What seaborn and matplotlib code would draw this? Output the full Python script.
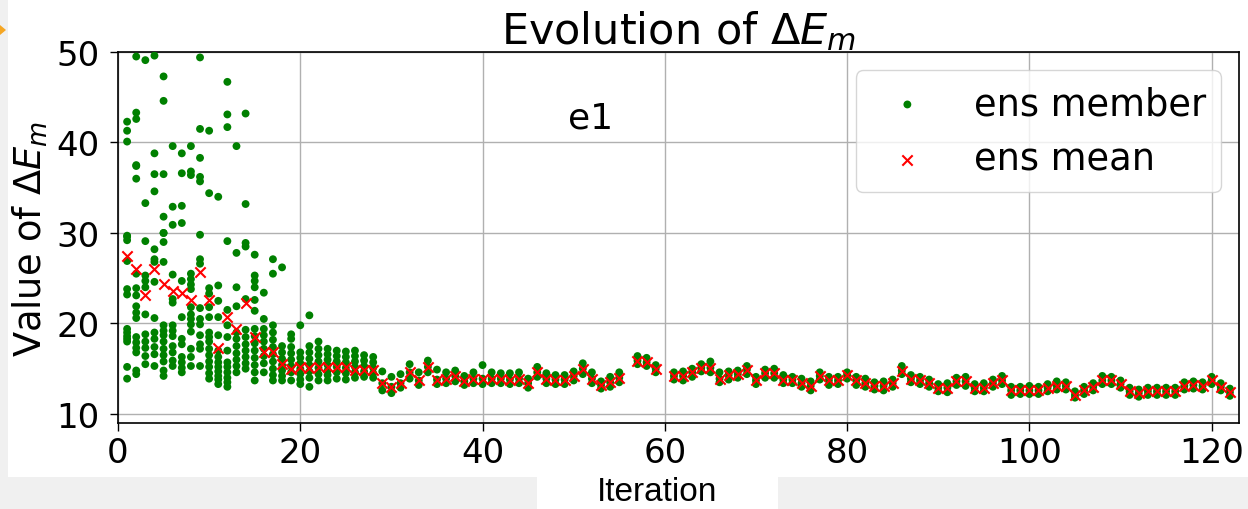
import pandas as pd
import matplotlib
matplotlib.use("Agg")
import matplotlib.pyplot as plt
from matplotlib.patches import Rectangle, Polygon
import seaborn as sns

# iterations 56 and 60 are missing in the run
iterations = [i for i in range(1, 123) if i not in (56, 60)]

ens_mean = [
    27.5, 26.0, 23.2, 26.0, 24.4, 23.6, 23.4, 22.6, 25.7, 22.6,
    17.3, 20.7, 19.4, 22.3, 18.5, 16.8, 16.8, 15.5, 15.0, 15.2,
    15.1, 15.2, 15.2, 15.2, 15.2, 14.9, 14.9, 14.9, 13.4, 13.0,
    13.4, 14.6, 13.7, 15.2, 13.8, 13.9, 14.2, 13.6, 13.9, 13.9,
    13.9, 13.9, 13.8, 13.9, 13.4, 14.6, 13.9, 13.8, 13.8, 14.2,
    15.0, 13.9, 13.2, 13.5, 14.0,
    15.9, 15.7, 15.0,
    14.2, 14.2, 14.6, 15.1, 15.1, 13.9, 14.3, 14.4, 14.9, 13.7,
    14.5, 14.5, 13.8, 13.8, 13.4, 13.1, 14.2, 13.7, 13.7, 14.3,
    13.7, 13.4, 13.1, 13.1, 13.4, 14.8, 13.9, 13.7, 13.4, 12.9,
    12.9, 13.6, 13.6, 12.9, 12.9, 13.4, 13.7, 12.6, 12.6, 12.6,
    12.6, 12.9, 13.1, 13.1, 12.1, 12.6, 13.0, 13.7, 13.7, 13.3,
    12.5, 12.3, 12.5, 12.5, 12.5, 12.5, 13.1, 13.2, 13.1, 13.7,
    13.0, 12.4,
]

# ensemble members, iterations 1-28 (wide spread)
members_early = [
    [42.3, 41.3, 40.1, 29.6, 29.7, 29.2, 26.9, 23.8, 23.2, 19.4, 19.0, 18.6, 18.3, 18.0, 15.2, 13.9],
    [49.5, 43.3, 42.6, 37.5, 37.4, 36.0, 25.5, 23.9, 23.1, 21.9, 21.2, 20.6, 18.5, 17.9, 17.3, 16.8, 14.8, 14.4],
    [49.1, 33.3, 29.1, 25.3, 24.7, 24.0, 21.0, 18.8, 18.0, 17.3, 16.4, 15.5],
    [49.6, 38.8, 36.5, 34.6, 28.2, 27.1, 26.8, 24.6, 20.6, 19.0, 18.3, 17.4, 16.6, 15.3],
    [47.3, 44.6, 36.5, 31.8, 30.0, 30.0, 29.0, 26.8, 19.8, 19.2, 18.7, 18.0, 17.2, 16.5, 15.8, 14.8, 14.2],
    [39.6, 32.9, 30.9, 25.4, 22.7, 22.3, 19.8, 19.2, 18.6, 17.5, 16.8, 15.9, 15.3],
    [38.8, 36.6, 33.0, 31.1, 24.7, 20.7, 18.3, 17.7, 16.3, 15.7, 15.1, 14.6],
    [39.6, 36.8, 36.4, 25.5, 24.9, 24.3, 23.8, 21.8, 21.0, 20.5, 19.9, 19.1, 17.2, 16.3, 15.3],
    [49.4, 41.5, 38.3, 36.2, 35.7, 29.8, 27.1, 26.6, 21.7, 20.5, 19.9, 18.7, 17.7, 17.2, 15.3],
    [41.3, 34.4, 23.9, 23.3, 21.8, 20.7, 19.0, 18.5, 18.0, 17.2, 16.5, 15.8, 15.2, 14.5, 13.9],
    [34.0, 24.2, 22.5, 20.7, 18.7, 17.0, 16.3, 15.7, 15.2, 14.7, 14.2, 13.8, 13.3],
    [46.7, 43.1, 41.7, 29.1, 21.5, 19.8, 18.5, 17.0, 15.7, 15.2, 14.6, 14.0, 13.5, 13.0],
    [39.6, 27.8, 24.0, 21.9, 19.0, 18.3, 17.5, 16.7, 16.0, 15.3, 14.6],
    [43.2, 33.2, 28.9, 28.5, 22.7, 19.3, 18.5, 17.7, 17.0, 16.3, 15.6, 15.0],
    [27.6, 25.3, 24.7, 24.0, 22.6, 21.4, 19.4, 18.6, 17.8, 17.0, 16.2, 15.4, 14.6, 13.7],
    [23.4, 20.5, 19.4, 18.7, 18.0, 17.2, 16.4, 15.6, 14.6],
    [27.1, 25.5, 19.8, 19.0, 18.2, 17.4, 16.6, 15.8, 15.0, 14.3, 13.7],
    [26.2, 17.5, 16.8, 16.1, 15.4, 14.8, 14.2, 13.7],
    [18.8, 18.3, 17.4, 16.7, 16.0, 15.3, 14.6, 13.7],
    [19.8, 16.8, 16.2, 15.6, 15.0, 14.4, 13.8, 13.3],
    [20.9, 17.5, 16.8, 16.1, 15.4, 14.7, 14.0, 13.0],
    [18.0, 17.2, 16.5, 15.8, 15.1, 14.4, 13.7],
    [17.2, 16.6, 16.0, 15.4, 14.8, 14.3, 13.7],
    [17.0, 16.4, 15.8, 15.2, 14.6, 13.9],
    [16.9, 16.3, 15.7, 15.1, 14.5, 13.8],
    [17.0, 16.4, 15.8, 15.2, 14.6, 14.0],
    [16.5, 15.9, 15.3, 14.7, 14.1],
    [16.3, 15.7, 15.1, 14.5, 14.0],
]

# iterations 29-122: members are tight, lowest and highest member
members_low = [
    12.6, 12.3, 12.9, 13.9, 13.2, 14.6, 13.3, 13.4, 13.6, 13.2,
    13.4, 13.3, 13.4, 13.4, 13.3, 13.4, 12.9, 14.1, 13.4, 13.3,
    13.3, 13.7, 14.4, 13.4, 12.8, 13.0, 13.5,
    15.5, 15.3, 14.6,
    13.8, 13.7, 14.1, 14.7, 14.6, 13.5, 13.8, 14.0, 14.4, 13.3,
    14.0, 14.0, 13.4, 13.4, 13.0, 12.6, 13.8, 13.2, 13.3, 13.9,
    13.2, 13.0, 12.7, 12.6, 13.0, 14.4, 13.5, 13.3, 13.0, 12.5,
    12.4, 13.2, 13.1, 12.5, 12.5, 13.0, 13.3, 12.1, 12.2, 12.2,
    12.2, 12.5, 12.7, 12.7, 11.8, 12.2, 12.6, 13.3, 13.3, 12.9,
    12.1, 11.9, 12.1, 12.1, 12.1, 12.1, 12.7, 12.8, 12.7, 13.3,
    12.6, 12.0,
]
members_high = [
    14.7, 14.1, 14.4, 15.5, 14.6, 15.9, 14.9, 14.6, 14.8, 14.2,
    14.6, 15.4, 14.6, 14.5, 14.5, 14.6, 13.9, 15.2, 14.5, 14.3,
    14.3, 14.7, 15.6, 14.6, 13.6, 14.1, 14.6,
    16.4, 16.2, 15.4,
    14.6, 14.7, 15.0, 15.5, 15.8, 14.6, 14.7, 14.8, 15.3, 14.1,
    14.9, 15.0, 14.3, 14.1, 13.9, 13.6, 14.6, 14.1, 14.1, 14.6,
    14.1, 13.9, 13.5, 13.6, 13.8, 15.3, 14.3, 14.1, 13.8, 13.3,
    13.4, 14.0, 14.1, 13.3, 13.4, 13.8, 14.2, 13.0, 13.0, 13.1,
    13.0, 13.3, 13.6, 13.5, 12.5, 13.0, 13.4, 14.2, 14.1, 13.7,
    12.9, 12.7, 12.9, 12.9, 12.9, 12.9, 13.5, 13.6, 13.5, 14.1,
    13.4, 12.8,
]

# build long table of members
rows = []
for it, vals in zip(iterations[:28], members_early):
    for v in vals:
        rows.append((it, v))
for it, lo, mid, hi in zip(iterations[28:], members_low, ens_mean[28:], members_high):
    rows += [(it, lo), (it, mid), (it, hi)]
df_mem = pd.DataFrame(rows, columns=["iteration", "value"])
df_mean = pd.DataFrame({"iteration": iterations, "value": ens_mean})

sns.set_style("ticks")
plt.rcParams["font.family"] = ["DejaVu Sans"]
plt.rcParams.update({"text.color": "black", "axes.labelcolor": "black",
                     "xtick.color": "black", "ytick.color": "black"})

W, H = 1248, 510
fig = plt.figure(figsize=(W / 100, H / 100), dpi=100)
fig.patch.set_facecolor("#f0f0f0")
# slide background bits around the figure
fig.add_artist(Rectangle((8 / W, 1 - 478 / H), 1, 478 / H, transform=fig.transFigure,
                         facecolor="white", edgecolor="none", zorder=-2))
fig.add_artist(Rectangle((537 / W, 0), 241 / W, 32 / H, transform=fig.transFigure,
                         facecolor="white", edgecolor="none", zorder=-2))
fig.add_artist(Polygon([(0, 1 - 26 / H), (6 / W, 1 - 31 / H), (0, 1 - 36 / H)],
                       closed=True, transform=fig.transFigure,
                       facecolor="#f5a623", edgecolor="none", zorder=-1))

ax = fig.add_axes([118 / W, 1 - 424 / H, 1121 / W, 371 / H])
ax.set_facecolor("white")

sns.scatterplot(data=df_mem, x="iteration", y="value", ax=ax, color="green",
                marker="o", s=32, edgecolor="none", label="ens member", zorder=3)
sns.scatterplot(data=df_mean, x="iteration", y="value", ax=ax, color="red",
                marker="x", s=55, linewidth=1.5, label="ens mean", zorder=4)

ax.set_xlim(0, 123)
ax.set_ylim(9, 50)
ax.set_xticks([0, 20, 40, 60, 80, 100, 120])
ax.set_yticks([10, 20, 30, 40, 50])
ax.tick_params(labelsize=24.5, length=6, width=1, color="black")
ax.tick_params(axis="y", pad=7)
ax.grid(True, color="#b0b0b0", linewidth=1)
for sp in ax.spines.values():
    sp.set_color("black")
    sp.set_linewidth(1.2)

ax.set_title("Evolution of $\\Delta E_m$", fontsize=31, pad=3)
ax.set_ylabel("Value of $\\Delta E_m$", fontsize=26.5, labelpad=5)
ax.set_xlabel("")
ax.text(51.8, 42.8, "e1", fontsize=26, ha="center", va="center")

ax.legend(loc="upper right", fontsize=26.5, handletextpad=0.8, borderpad=0.4,
          framealpha=0.8, bbox_to_anchor=(1, 1), borderaxespad=0.5)

fig.text(657 / W, 17 / H, "Iteration", fontsize=24, family=["Liberation Sans", "DejaVu Sans"],
         ha="center", va="center")

fig.savefig("out.png", dpi=100, facecolor=fig.get_facecolor())
